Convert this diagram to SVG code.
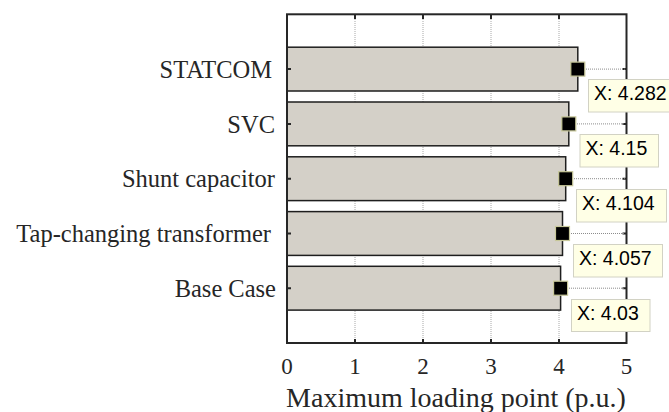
<svg xmlns="http://www.w3.org/2000/svg" width="669" height="412" viewBox="0 0 669 412">
  <style>
    .grid { stroke: #a8a8a8; stroke-width: 1; stroke-dasharray: 1 1; fill: none; }
    .lead { stroke: #8c8c8c; stroke-width: 1; stroke-dasharray: 1 1; fill: none; }
    .bar { fill: #d4d0c8; stroke: #1e1e1e; stroke-width: 1.5; }
    .axis { stroke: #262626; stroke-width: 2; fill: none; }
    .tick { stroke: #262626; stroke-width: 2; }
    .tipbox { fill: #ffffe6; stroke: #d2d2c4; stroke-width: 1; }
    .mark { fill: #000; stroke: #c8c89a; stroke-width: 1.2; }
  </style>

  <!-- vertical grid at x = 1..4 -->
  <g id="grid">
    <line class="grid" x1="355" y1="15" x2="355" y2="342"/>
    <line class="grid" x1="423" y1="15" x2="423" y2="342"/>
    <line class="grid" x1="491" y1="15" x2="491" y2="342"/>
    <line class="grid" x1="559" y1="15" x2="559" y2="342"/>
  </g>

  <!-- bars: x from 0 (287) to value, scale 67.9 px per p.u. -->
  <g font-family="'Liberation Serif', 'Times New Roman', serif" font-size="24.5" fill="#262626" text-anchor="end">
    <g id="statcom">
      <rect class="bar" x="287" y="47.2" width="290.8" height="43.8"/>
      <text x="272" y="77.7">STATCOM</text>
    </g>
    <g id="svc">
      <rect class="bar" x="287" y="102" width="281.8" height="43.8"/>
      <text x="275" y="132.6">SVC</text>
    </g>
    <g id="shunt-capacitor">
      <rect class="bar" x="287" y="156.8" width="278.7" height="43.8"/>
      <text x="275" y="187.4">Shunt capacitor</text>
    </g>
    <g id="tap-changing-transformer">
      <rect class="bar" x="287" y="211.6" width="275.5" height="43.8"/>
      <text x="271" y="242.2">Tap-changing transformer</text>
    </g>
    <g id="base-case">
      <rect class="bar" x="287" y="266.3" width="273.6" height="43.8"/>
      <text x="276" y="297">Base Case</text>
    </g>
  </g>

  <!-- axes box and ticks -->
  <g id="axes">
    <rect class="axis" x="287" y="14.3" width="339.5" height="328.7"/>
    <path class="tick" d="M355 15v4M423 15v4M491 15v4M559 15v4
                          M355 343v-4M423 343v-4M491 343v-4M559 343v-4
                          M287 69.1h4M287 123.9h4M287 178.7h4M287 233.5h4M287 288.2h4
                          M626.5 69.1h-4M626.5 123.9h-4M626.5 178.7h-4M626.5 233.5h-4M626.5 288.2h-4"/>
    <g font-family="'Liberation Serif', 'Times New Roman', serif" font-size="23" fill="#262626" text-anchor="middle">
      <text x="287" y="374">0</text>
      <text x="355" y="374">1</text>
      <text x="423" y="374">2</text>
      <text x="491" y="374">3</text>
      <text x="559" y="374">4</text>
      <text x="626.5" y="374">5</text>
    </g>
    <text x="456" y="406.5" font-family="'Liberation Serif', 'Times New Roman', serif" font-size="28" fill="#262626" text-anchor="middle">Maximum loading point (p.u.)</text>
  </g>

  <!-- leaders from data markers to the right axis -->
  <g id="connectors">
    <line class="lead" x1="586" y1="69.1" x2="625" y2="69.1"/>
    <line class="lead" x1="577" y1="123.9" x2="625" y2="123.9"/>
    <line class="lead" x1="574" y1="178.7" x2="625" y2="178.7"/>
    <line class="lead" x1="571" y1="233.5" x2="625" y2="233.5"/>
    <line class="lead" x1="569" y1="288.2" x2="625" y2="288.2"/>
  </g>

  <!-- data markers -->
  <g id="markers">
    <rect class="mark" x="570.8" y="62.1" width="14" height="14"/>
    <rect class="mark" x="561.8" y="116.9" width="14" height="14"/>
    <rect class="mark" x="558.7" y="171.7" width="14" height="14"/>
    <rect class="mark" x="555.5" y="226.5" width="14" height="14"/>
    <rect class="mark" x="553.6" y="281.2" width="14" height="14"/>
  </g>

  <!-- data tips -->
  <g font-family="'Liberation Sans', Arial, sans-serif" font-size="19.5" fill="#000">
    <g id="tip-statcom">
      <rect class="tipbox" x="588.5" y="79.5" width="86" height="32.5"/>
      <text x="594" y="100">X: 4.282</text>
    </g>
    <g id="tip-svc">
      <rect class="tipbox" x="580" y="134.5" width="78.5" height="32.5"/>
      <text x="585.5" y="155">X: 4.15</text>
    </g>
    <g id="tip-shunt">
      <rect class="tipbox" x="576.5" y="189.5" width="90" height="32.5"/>
      <text x="582" y="210">X: 4.104</text>
    </g>
    <g id="tip-tap">
      <rect class="tipbox" x="573.5" y="244.5" width="89" height="32.5"/>
      <text x="579" y="265">X: 4.057</text>
    </g>
    <g id="tip-base">
      <rect class="tipbox" x="571.5" y="299.5" width="78.5" height="32"/>
      <text x="577" y="319.5">X: 4.03</text>
    </g>
  </g>
</svg>
